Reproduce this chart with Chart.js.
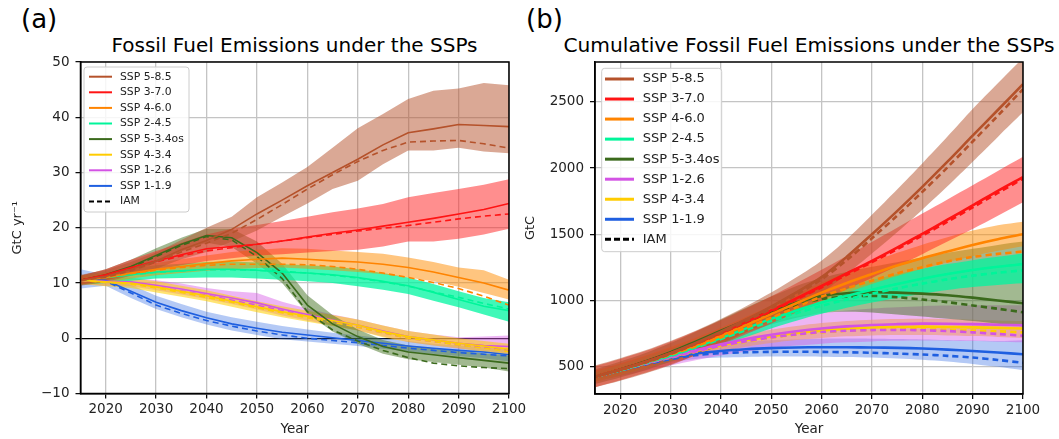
<!DOCTYPE html>
<html>
<head>
<meta charset="utf-8">
<script src="https://cdn.jsdelivr.net/npm/chart.js@4.4.0/dist/chart.umd.min.js"></script>
<style>
body { margin: 0; background: #fff; width: 1059px; height: 439px; position: relative; overflow: hidden; font-family: "DejaVu Sans", sans-serif; }
canvas { position: absolute; top: 0; }
#chartA { left: 0; }
#chartB { left: 515px; }
.lbl { position: absolute; white-space: nowrap; color: #000; }
</style>
</head>
<body>
<div class="lbl" style="left:21px; top:4px; font-size:26px;">(a)</div>
<div class="lbl" style="left:526px; top:4px; font-size:26px;">(b)</div>
<div class="lbl" style="left:80px; width:429px; top:33px; font-size:20px; text-align:center;">Fossil Fuel Emissions under the SSPs</div>
<div class="lbl" style="left:509px; width:600px; top:33px; font-size:20.2px; text-align:center;">Cumulative Fossil Fuel Emissions under the SSPs</div>
<canvas id="chartA" width="530" height="439"></canvas>
<canvas id="chartB" width="544" height="439"></canvas>
<script>
// years shared by every series (5-year steps)
const years = [2015, 2020, 2025, 2030, 2035, 2040, 2045, 2050, 2055, 2060, 2065, 2070, 2075, 2080, 2085, 2090, 2095, 2100];
const xTicks = [2020, 2030, 2040, 2050, 2060, 2070, 2080, 2090, 2100];
const yTicksA = [-10, 0, 10, 20, 30, 40, 50];
const yTicksB = [500, 1000, 1500, 2000, 2500];

// (a) annual fossil fuel emissions, GtC/yr
const emi585 = [10.5, 11.2, 12.5, 14.0, 16.0, 17.7, 19.7, 22.5, 25.0, 27.6, 30.0, 32.4, 35.0, 37.2, 37.9, 38.7, 38.5, 38.3];
const emi585Iam = [10.5, 11.0, 12.2, 13.8, 15.6, 17.2, 19.0, 21.5, 24.2, 27.0, 29.6, 32.0, 34.0, 35.5, 35.7, 35.8, 35.2, 34.4];
const emi585Hi = [11.5, 12.3, 13.8, 15.5, 17.8, 20.0, 22.0, 25.5, 28.2, 31.0, 34.5, 38.0, 40.6, 43.3, 44.8, 45.2, 46.2, 45.8];
const emi585Lo = [9.5, 10.2, 11.3, 12.6, 14.3, 15.6, 17.5, 19.5, 22.0, 24.4, 27.0, 28.5, 31.5, 34.0, 34.0, 34.5, 33.8, 33.5];

const emi370 = [10.5, 11.5, 12.8, 14.0, 15.1, 16.2, 16.6, 17.0, 17.6, 18.3, 19.0, 19.6, 20.3, 21.0, 21.7, 22.5, 23.3, 24.4];
const emi370Iam = [10.5, 11.4, 12.6, 13.8, 14.9, 15.8, 16.4, 17.0, 17.6, 18.2, 18.8, 19.4, 19.9, 20.4, 21.0, 21.6, 22.1, 22.5];
const emi370Hi = [11.3, 12.5, 14.2, 15.8, 17.3, 18.8, 19.8, 20.5, 21.2, 22.0, 22.8, 23.5, 24.3, 25.5, 26.3, 27.0, 27.8, 28.8];
const emi370Lo = [9.7, 10.5, 11.5, 12.4, 13.2, 14.0, 14.5, 15.0, 15.2, 15.5, 15.8, 16.0, 16.6, 17.5, 17.5, 18.0, 18.8, 19.8];

const emi460 = [10.5, 11.0, 11.8, 12.5, 13.0, 13.5, 14.0, 14.3, 14.5, 14.3, 14.0, 13.8, 13.4, 12.8, 12.0, 11.0, 10.0, 8.7];
const emi460Iam = [10.5, 11.0, 11.7, 12.3, 12.8, 13.2, 13.4, 13.4, 13.4, 13.3, 13.0, 12.5, 11.8, 11.0, 10.1, 9.0, 7.6, 6.0];
const emi460Hi = [11.3, 11.9, 12.8, 13.6, 14.3, 15.0, 15.6, 16.0, 16.3, 16.2, 15.9, 15.6, 15.3, 14.6, 13.8, 12.8, 12.3, 10.6];
const emi460Lo = [9.7, 10.1, 10.8, 11.4, 11.8, 12.2, 12.5, 12.7, 12.8, 12.6, 12.3, 12.0, 11.6, 11.0, 10.3, 9.3, 8.2, 7.0];

const emi245 = [10.5, 11.0, 11.5, 12.0, 12.2, 12.5, 12.5, 12.3, 12.0, 11.8, 11.5, 11.0, 10.3, 9.5, 8.3, 7.0, 5.8, 5.0];
const emi245Iam = [10.5, 11.0, 11.5, 11.9, 12.2, 12.4, 12.4, 12.3, 12.1, 11.8, 11.4, 10.9, 10.2, 9.4, 8.4, 7.4, 6.3, 5.3];
const emi245Hi = [11.3, 12.0, 12.6, 13.2, 13.5, 13.8, 13.9, 13.7, 13.4, 13.2, 13.0, 12.5, 11.8, 11.0, 9.8, 8.5, 7.3, 6.5];
const emi245Lo = [9.7, 10.0, 10.4, 10.8, 10.9, 11.0, 11.0, 10.8, 10.6, 10.3, 10.0, 9.4, 8.8, 8.0, 6.8, 5.6, 4.3, 3.0];

const emi534 = [10.5, 11.5, 13.0, 15.0, 17.0, 18.6, 18.2, 15.5, 11.8, 6.0, 2.6, 0.3, -1.5, -2.5, -3.0, -3.5, -4.0, -4.5];
const emi534Iam = [10.5, 11.4, 12.8, 14.8, 16.8, 18.4, 17.8, 14.8, 10.8, 4.8, 1.5, -0.5, -2.2, -3.5, -4.5, -5.0, -5.3, -5.5];
const emi534Hi = [11.3, 12.5, 14.2, 16.3, 18.2, 19.8, 19.8, 17.5, 13.5, 7.8, 4.2, 1.6, -0.3, -1.3, -1.8, -2.3, -2.7, -3.2];
const emi534Lo = [9.7, 10.5, 11.8, 13.7, 15.7, 17.3, 16.5, 13.5, 10.0, 4.5, 1.2, -1.0, -2.8, -3.8, -4.3, -4.8, -5.3, -6.0];

const emi434 = [10.5, 10.2, 10.0, 9.3, 8.5, 7.7, 6.7, 5.7, 4.8, 4.0, 3.2, 2.4, 1.2, 0.3, -0.3, -0.9, -1.4, -2.0];
const emi434Iam = [10.5, 10.1, 9.8, 9.1, 8.3, 7.4, 6.5, 5.5, 4.6, 3.7, 2.9, 2.0, 1.0, 0.0, -0.6, -1.2, -1.8, -2.4];
const emi434Hi = [11.2, 11.0, 10.9, 10.3, 9.5, 8.7, 7.7, 6.7, 5.8, 5.0, 4.2, 3.4, 2.3, 1.3, 0.7, 0.0, -0.5, -1.0];
const emi434Lo = [9.8, 9.4, 9.1, 8.3, 7.5, 6.7, 5.7, 4.7, 3.8, 3.0, 2.2, 1.4, 0.2, -0.7, -1.3, -1.8, -2.5, -3.3];

const emi126 = [10.5, 10.3, 10.2, 9.6, 8.9, 8.1, 7.3, 6.4, 5.3, 4.3, 3.3, 2.4, 1.3, 0.3, -0.3, -0.9, -1.3, -1.5];
const emi126Iam = [10.5, 10.2, 10.0, 9.3, 8.6, 7.8, 6.9, 6.0, 5.0, 4.0, 3.0, 2.0, 1.0, 0.0, -0.6, -1.2, -1.7, -2.2];
const emi126Hi = [11.2, 11.0, 11.0, 10.5, 9.9, 9.1, 8.5, 8.2, 6.6, 5.4, 4.3, 3.4, 2.3, 1.3, 0.7, 0.2, 0.3, 0.5];
const emi126Lo = [9.8, 9.5, 9.4, 8.7, 7.9, 7.1, 6.2, 5.2, 4.1, 3.2, 2.3, 1.4, 0.3, -0.7, -1.3, -1.9, -2.3, -2.8];

const emi119 = [10.5, 10.5, 8.5, 6.5, 5.0, 3.7, 2.6, 1.8, 1.1, 0.6, 0.1, -0.4, -0.9, -1.4, -1.8, -2.2, -2.5, -3.0];
const emi119Iam = [10.5, 10.3, 8.2, 6.0, 4.5, 3.2, 2.2, 1.3, 0.6, 0.0, -0.4, -0.8, -1.3, -1.8, -2.2, -2.6, -2.9, -3.2];
const emi119Hi = [12.5, 11.5, 9.7, 7.7, 6.2, 4.8, 3.8, 3.0, 2.2, 1.6, 1.0, 0.5, 0.0, -0.5, -1.0, -1.3, -1.6, -1.8];
const emi119Lo = [9.0, 9.5, 7.3, 5.3, 3.8, 2.5, 1.4, 0.6, -0.2, -0.6, -1.0, -1.4, -1.9, -2.4, -2.8, -3.2, -3.6, -4.2];

// (b) cumulative emissions, GtC
const cum585 = [425, 478, 536, 603, 680, 765, 857, 955, 1062, 1177, 1330, 1500, 1675, 1858, 2048, 2244, 2438, 2633];
const cum585Iam = [425, 477, 533, 598, 673, 755, 845, 940, 1045, 1160, 1305, 1470, 1640, 1820, 2005, 2200, 2395, 2595];
const cum585Hi = [510, 565, 625, 695, 772, 860, 957, 1060, 1175, 1300, 1462, 1648, 1838, 2035, 2237, 2445, 2640, 2830];
const cum585Lo = [345, 395, 450, 512, 590, 672, 760, 852, 952, 1058, 1200, 1355, 1515, 1685, 1862, 2048, 2235, 2420];

const cum370 = [425, 478, 536, 602, 676, 757, 840, 926, 1016, 1110, 1205, 1300, 1400, 1503, 1610, 1718, 1828, 1932];
const cum370Iam = [425, 478, 535, 600, 673, 752, 835, 920, 1010, 1100, 1195, 1290, 1388, 1490, 1595, 1703, 1812, 1920];
const cum370Hi = [505, 560, 620, 690, 768, 852, 940, 1032, 1130, 1232, 1337, 1442, 1549, 1656, 1763, 1870, 1978, 2085];
const cum370Lo = [345, 398, 455, 518, 588, 665, 745, 827, 912, 1000, 1085, 1170, 1260, 1350, 1445, 1540, 1640, 1742];

const cum460 = [425, 478, 535, 598, 665, 735, 815, 898, 980, 1060, 1133, 1200, 1265, 1320, 1370, 1420, 1463, 1500];
const cum460Iam = [425, 477, 532, 592, 655, 722, 795, 870, 950, 1030, 1092, 1150, 1205, 1252, 1295, 1330, 1352, 1370];
const cum460Hi = [470, 525, 585, 650, 720, 795, 878, 963, 1050, 1135, 1215, 1290, 1360, 1422, 1478, 1528, 1568, 1595];
const cum460Lo = [385, 435, 490, 550, 615, 682, 755, 832, 912, 990, 1060, 1125, 1185, 1240, 1290, 1335, 1375, 1410];

const cum245 = [425, 475, 530, 585, 650, 718, 790, 862, 925, 985, 1035, 1082, 1125, 1165, 1200, 1230, 1255, 1275];
const cum245Iam = [425, 475, 528, 582, 645, 710, 778, 845, 905, 960, 1008, 1052, 1092, 1128, 1160, 1188, 1210, 1228];
const cum245Hi = [460, 515, 575, 635, 705, 778, 852, 925, 990, 1050, 1105, 1155, 1200, 1240, 1275, 1305, 1330, 1355];
const cum245Lo = [390, 437, 488, 540, 598, 660, 725, 790, 848, 900, 945, 985, 1020, 1052, 1080, 1102, 1118, 1130];

const cum534 = [425, 480, 540, 610, 690, 772, 850, 920, 985, 1035, 1055, 1062, 1060, 1052, 1040, 1022, 1000, 980];
const cum534Iam = [425, 478, 537, 605, 683, 762, 840, 905, 965, 1012, 1030, 1035, 1025, 1008, 988, 963, 938, 912];
const cum534Hi = [480, 540, 605, 680, 765, 855, 945, 1030, 1110, 1170, 1215, 1255, 1290, 1325, 1360, 1390, 1420, 1445];
const cum534Lo = [370, 420, 475, 540, 615, 690, 760, 820, 870, 905, 915, 910, 895, 880, 862, 845, 825, 805];

const cum126 = [425, 476, 527, 577, 625, 670, 710, 742, 768, 789, 805, 816, 822, 826, 825, 822, 818, 814];
const cum126Iam = [425, 475, 524, 571, 616, 658, 693, 722, 745, 763, 772, 777, 778, 776, 770, 760, 748, 735];
const cum126Hi = [470, 525, 580, 640, 700, 760, 810, 850, 880, 905, 925, 940, 950, 958, 962, 965, 965, 965];
const cum126Lo = [390, 430, 470, 510, 550, 585, 615, 640, 660, 675, 685, 692, 696, 698, 697, 694, 690, 685];

const cum434 = [425, 476, 527, 575, 620, 662, 700, 730, 755, 773, 788, 797, 802, 803, 801, 798, 794, 789];
const cum434Iam = [425, 475, 524, 570, 613, 653, 690, 720, 743, 760, 772, 779, 782, 782, 779, 774, 768, 760];
const cum434Hi = [450, 505, 560, 610, 660, 705, 745, 780, 808, 830, 845, 855, 860, 862, 860, 856, 850, 845];
const cum434Lo = [400, 447, 495, 540, 580, 618, 652, 680, 702, 718, 730, 737, 740, 740, 737, 732, 726, 718];

const cum119 = [425, 475, 525, 568, 600, 620, 633, 641, 646, 648, 648, 646, 643, 638, 630, 620, 608, 595];
const cum119Iam = [425, 472, 518, 558, 588, 603, 610, 613, 614, 613, 610, 606, 600, 593, 583, 570, 552, 530];
const cum119Hi = [445, 498, 552, 600, 640, 668, 688, 700, 708, 712, 713, 712, 710, 707, 703, 698, 694, 700];
const cum119Lo = [405, 450, 495, 535, 560, 570, 575, 578, 578, 577, 574, 570, 563, 553, 540, 522, 500, 475];

// colours
const colors = {
    '585': ['#b5522b', 'rgba(181, 82, 43, 0.5)'],
    '370': ['#ff1414', 'rgba(255, 30, 30, 0.5)'],
    '460': ['#ff8400', 'rgba(255, 140, 0, 0.5)'],
    '245': ['#00f59a', 'rgba(0, 245, 160, 0.75)'],
    '534': ['#3b6a1c', 'rgba(70, 115, 35, 0.5)'],
    '434': ['#ffcc00', 'rgba(255, 205, 0, 0.55)'],
    '126': ['#d353e4', 'rgba(215, 90, 230, 0.45)'],
    '119': ['#1f5fe0', 'rgba(40, 100, 225, 0.35)']
};
const names = {
    '585': 'SSP 5-8.5', '370': 'SSP 3-7.0', '460': 'SSP 4-6.0', '245': 'SSP 2-4.5',
    '534': 'SSP 5-3.4os', '434': 'SSP 4-3.4', '126': 'SSP 1-2.6', '119': 'SSP 1-1.9'
};

const seriesA = {
    '585': [emi585, emi585Iam, emi585Hi, emi585Lo],
    '370': [emi370, emi370Iam, emi370Hi, emi370Lo],
    '460': [emi460, emi460Iam, emi460Hi, emi460Lo],
    '245': [emi245, emi245Iam, emi245Hi, emi245Lo],
    '534': [emi534, emi534Iam, emi534Hi, emi534Lo],
    '434': [emi434, emi434Iam, emi434Hi, emi434Lo],
    '126': [emi126, emi126Iam, emi126Hi, emi126Lo],
    '119': [emi119, emi119Iam, emi119Hi, emi119Lo]
};
const seriesB = {
    '585': [cum585, cum585Iam, cum585Hi, cum585Lo],
    '370': [cum370, cum370Iam, cum370Hi, cum370Lo],
    '460': [cum460, cum460Iam, cum460Hi, cum460Lo],
    '245': [cum245, cum245Iam, cum245Hi, cum245Lo],
    '534': [cum534, cum534Iam, cum534Hi, cum534Lo],
    '126': [cum126, cum126Iam, cum126Hi, cum126Lo],
    '434': [cum434, cum434Iam, cum434Hi, cum434Lo],
    '119': [cum119, cum119Iam, cum119Hi, cum119Lo]
};
const orderA = ['585', '370', '460', '245', '534', '434', '126', '119'];
const orderB = ['585', '370', '460', '245', '534', '126', '434', '119'];

function pts(arr) {
    return arr.map(function(v, i) { return { x: years[i], y: v }; });
}

function buildDatasets(series, order, lw, tension) {
    let lines = [];
    let bands = [];
    order.forEach(function(k) {
        const s = series[k];
        const c = colors[k];
        lines.push({ label: names[k], data: pts(s[0]), borderColor: c[0], borderWidth: lw, pointRadius: 0, tension: tension, fill: false });
        lines.push({ label: names[k] + ' IAM', data: pts(s[1]), borderColor: c[0], borderWidth: lw, borderDash: [6, 4], pointRadius: 0, tension: tension, fill: false });
        // each band is an upper edge filled down to the lower edge right after it
        bands.push({ label: names[k] + ' hi', data: pts(s[2]), borderWidth: 0, pointRadius: 0, tension: tension, backgroundColor: c[1], fill: '+1' });
        bands.push({ label: names[k] + ' lo', data: pts(s[3]), borderWidth: 0, pointRadius: 0, tension: tension, fill: false });
    });
    // lines first: chart.js paints the last dataset first, so bands end up underneath
    return lines.concat(bands);
}

// frame round the plot and the boxed legend
const boxLegend = {
    id: 'boxLegend',
    afterDraw(chart, args, o) {
        const ctx = chart.ctx;
        const a = chart.chartArea;
        ctx.save();
        ctx.strokeStyle = '#000';
        ctx.lineWidth = 1.5;
        ctx.strokeRect(a.left, a.top, a.right - a.left, a.bottom - a.top);

        ctx.fillStyle = 'rgba(255,255,255,0.85)';
        ctx.strokeStyle = '#cccccc';
        ctx.lineWidth = 1;
        ctx.beginPath();
        ctx.roundRect(o.x, o.y, o.w, o.h, 3);
        ctx.fill();
        ctx.stroke();

        ctx.font = o.fontSize + 'px "DejaVu Sans"';
        ctx.textBaseline = 'middle';
        o.keys.forEach(function(k, i) {
            const y = o.y0 + i * o.step;
            ctx.beginPath();
            ctx.strokeStyle = colors[k][0];
            ctx.lineWidth = o.lw;
            ctx.setLineDash([]);
            ctx.moveTo(o.l0, y);
            ctx.lineTo(o.l1, y);
            ctx.stroke();
            ctx.fillStyle = '#222';
            ctx.fillText(names[k], o.tx, y);
        });
        const yi = o.y0 + o.keys.length * o.step;
        ctx.beginPath();
        ctx.strokeStyle = '#000';
        ctx.lineWidth = o.lw;
        ctx.setLineDash([o.dash, o.gap]);
        ctx.moveTo(o.l0, yi);
        ctx.lineTo(o.l1, yi);
        ctx.stroke();
        ctx.setLineDash([]);
        ctx.fillStyle = '#222';
        ctx.fillText('IAM', o.tx, yi);
        ctx.restore();
    }
};

function makeOptions(cfg) {
    return {
        responsive: false,
        animation: false,
        devicePixelRatio: 1,
        layout: { padding: cfg.padding },
        plugins: {
            legend: { display: false },
            tooltip: { enabled: false },
            boxLegend: cfg.legend
        },
        scales: {
            x: {
                type: 'linear',
                min: 2015,
                max: 2100,
                afterBuildTicks: function(s) { s.ticks = xTicks.map(function(v) { return { value: v }; }); },
                afterFit: function(s) { s.height = cfg.xHeight; },
                border: { color: '#000', width: 1.5 },
                grid: { color: '#c4c4c4', lineWidth: 1.3, tickColor: '#000', tickLength: 5, tickWidth: 1.2 },
                ticks: { color: '#222', font: { family: 'DejaVu Sans', size: 13.5 }, padding: 3, maxRotation: 0, callback: function(v) { return String(v); } },
                title: { display: true, text: 'Year', color: '#222', font: { family: 'DejaVu Sans', size: 13.5 }, padding: { top: 0, bottom: 1 } }
            },
            y: {
                min: cfg.yMin,
                max: cfg.yMax,
                afterBuildTicks: function(s) { s.ticks = cfg.yTicks.map(function(v) { return { value: v }; }); },
                afterFit: function(s) { s.width = cfg.yWidth; },
                border: { color: '#000', width: 1.5 },
                grid: {
                    color: function(c) { return (cfg.zeroLine && c.tick && c.tick.value === 0) ? '#000' : '#c4c4c4'; },
                    lineWidth: 1.3, tickColor: '#000', tickLength: 5, tickWidth: 1.2
                },
                ticks: { color: '#222', font: { family: 'DejaVu Sans', size: 13.5 }, padding: cfg.yPad, callback: function(v) { return String(v).replace('-', '\u2212'); } },
                title: { display: true, text: cfg.yTitle, color: '#222', font: { family: 'DejaVu Sans', size: 13 }, padding: { top: cfg.yTitlePad, bottom: 0 } }
            }
        }
    };
}

new Chart(document.getElementById('chartA'), {
    type: 'line',
    data: { datasets: buildDatasets(seriesA, orderA, 1.6, 0) },
    options: makeOptions({
        padding: { left: 0, top: 62, right: 21, bottom: 0 },
        xHeight: 45.5, yWidth: 80.5, yMin: -10, yMax: 50, yTicks: yTicksA, yPad: 6,
        yTitle: 'GtC yr\u207B\u00B9', yTitlePad: 10, zeroLine: true,
        legend: { keys: orderA, x: 84, y: 67, w: 105, h: 145, y0: 76.7, step: 15.6, l0: 89, l1: 112, tx: 120, fontSize: 10.8, lw: 2, dash: 5, gap: 3 }
    }),
    plugins: [boxLegend]
});

new Chart(document.getElementById('chartB'), {
    type: 'line',
    data: { datasets: buildDatasets(seriesB, orderB, 2.6, 0.3) },
    options: makeOptions({
        padding: { left: 0, top: 62, right: 36, bottom: 0 },
        xHeight: 45, yWidth: 80, yMin: 295, yMax: 2800, yTicks: yTicksB, yPad: 6,
        yTitle: 'GtC', yTitlePad: 8, zeroLine: false,
        legend: { keys: orderB, x: 86.7, y: 68.3, w: 120, h: 183.4, y0: 79, step: 20.04, l0: 90, l1: 119, tx: 127.7, fontSize: 13, lw: 3, dash: 6, gap: 3 }
    }),
    plugins: [boxLegend]
});
</script>
</body>
</html>
